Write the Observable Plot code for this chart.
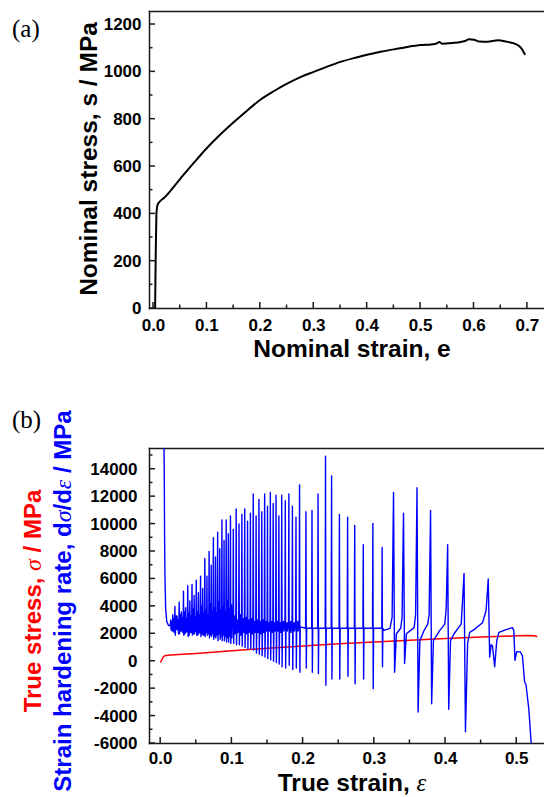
<!DOCTYPE html>
<html><head><meta charset="utf-8">
<script src="https://cdn.jsdelivr.net/npm/d3@7"></script>
<script src="https://cdn.jsdelivr.net/npm/@observablehq/plot@0.6"></script>
<style>
body{margin:0;background:#fff;}
#wrap{position:relative;width:544px;height:797px;overflow:hidden;background:#fff;}
#wrap svg{position:absolute;left:0;}
</style></head><body><div id="wrap"></div>
<script>
// ---------- Panel (a): nominal stress-strain ----------
const nominalStrain = [0.003,0.0035,0.004,0.0045,0.005,0.0055,0.0065,0.008,0.011,0.02,0.05,0.075,0.1,0.125,0.15,0.175,0.2,0.225,0.25,0.275,0.3,0.325,0.35,0.375,0.4,0.425,0.45,0.475,0.5,0.52,0.53,0.535,0.54,0.56,0.575,0.585,0.59,0.6,0.61,0.625,0.645,0.66,0.675,0.685,0.69,0.695];
const nominalStress = [0,100,200,280,340,400,425,440,450,468,548,614,678,735,787,836,882,918,950,978,1000,1022,1042,1058,1072,1085,1095,1105,1113,1116,1120,1126,1119,1122,1126,1132,1138,1136,1128,1127,1133,1128,1120,1108,1095,1075];
const xTicksA = [0,0.1,0.2,0.3,0.4,0.5,0.6,0.7];
const xMinorA = [0.05,0.15,0.25,0.35,0.45,0.55,0.65];
const yTicksA = [0,200,400,600,800,1000,1200];
const yMinorA = [100,300,500,700,900,1100];

// ---------- Panel (b): true stress & strain hardening rate ----------
const trueStrain = [0,0.002,0.004,0.006,0.01,0.03,0.05,0.1,0.15,0.2,0.25,0.3,0.35,0.4,0.45,0.5,0.515,0.525,0.528];
const trueStress = [-60,150,330,400,440,500,560,760,940,1110,1270,1400,1530,1650,1760,1850,1870,1860,1800];

// initial steep drop of the hardening rate
const startStrain = [0.0045,0.005,0.0055,0.006,0.007,0.0085,0.011];
const startRate = [16500,14000,9000,6300,3800,2900,2600];

// main serrations: position, peak, trough, baseline level
const spikeStrain = [
0.014,0.017,0.020,0.023,0.026,0.029,0.032,0.035,0.038,0.041,0.044,0.047,0.050,0.053,0.056,0.059,
0.062,0.065,0.068,0.071,0.074,0.077,0.080,0.083,0.086,0.089,0.092,0.095,0.098,
0.102,0.106,0.110,0.114,0.118,0.122,0.126,0.130,0.134,0.138,0.142,0.146,0.150,0.154,0.158,0.162,0.166,0.170,0.175,0.180,0.185,0.190,0.195,
0.204,0.2125,0.221,0.2315,0.240,0.251,0.2625,0.2725,0.2845,0.298,0.311];
const spikePeak = [
3000,3400,4000,3300,4300,3600,5100,3900,5500,4400,5600,4800,5900,5000,6200,5300,
7500,6200,8000,7000,9000,7600,9400,8200,10300,8800,10300,9300,10600,
9600,11100,10000,10700,11100,10200,10800,12200,10600,11800,10900,12200,11300,12300,11500,12100,10600,12100,11700,12200,11300,10500,12850,
10900,11000,12200,14950,13500,10700,10500,9900,8500,10050,8300];
const spikeTrough = [
2300,2200,1900,2300,2000,2200,1900,2100,1800,2100,1900,2000,1900,2000,1800,1900,
1800,1900,1700,1800,1600,1700,1500,1600,1500,1500,1400,1400,1300,
1300,1200,1200,1100,1000,900,900,800,600,500,400,300,200,100,0,-100,-200,-400,-500,-300,-600,-500,-800,
-500,-800,-900,-1750,-1300,-1300,-1100,-1650,-1300,-2000,-400];
const spikeBase = [
2600,2600,2600,2600,2600,2600,2600,2600,2600,2600,2600,2600,2600,2600,2600,2600,
2550,2550,2550,2550,2550,2550,2550,2550,2550,2550,2550,2550,2550,
2500,2500,2500,2500,2500,2500,2500,2500,2500,2500,2500,2500,2500,2500,2500,2500,2500,2500,2500,2500,2500,2500,2500,
2400,2400,2400,2400,2400,2400,2400,2400,2400,2400,2400];

// small oscillations between the serrations (up to ~0.19)
const miniStrain = [
0.0155,0.0185,0.0215,0.0245,0.0275,0.0305,0.0335,0.0365,0.0395,0.0425,0.0455,0.0485,0.0515,0.0545,0.0575,0.0605,
0.0635,0.0665,0.0695,0.0725,0.0755,0.0785,0.0815,0.0845,0.0875,0.0905,0.0935,0.0965,0.0995,
0.104,0.108,0.112,0.116,0.120,0.124,0.128,0.132,0.136,0.140,0.144,0.148,0.152,0.156,0.160,0.164,0.168,0.1725,0.1775,0.1825,0.1875,0.1925];
const miniPeak = [
2900,3100,3300,3000,3400,3200,3600,3100,3500,3300,3800,3200,3600,3400,4000,3500,
3700,3300,4200,3600,3900,3500,4300,3700,4000,3600,4400,3800,4100,
3300,3000,3400,3100,3200,3000,3100,2900,3000,2900,3000,2900,2800,2900,2800,2900,2800,2900,2800,2900,2800,2900];
const miniTrough = [
2200,2100,2300,2000,2200,2100,2000,2200,1900,2100,2000,2200,1900,2100,2000,1900,
2100,2000,1900,2000,1800,1900,2000,1800,1900,1800,1700,1800,1700,
2000,2100,1900,2100,2000,2100,2000,2100,2100,2000,2100,2200,2200,2100,2200,2200,2100,2200,2200,2100,2200,2200];
const miniBase = [
2600,2600,2600,2600,2600,2600,2600,2600,2600,2600,2600,2600,2600,2600,2600,2600,
2550,2550,2550,2550,2550,2550,2550,2550,2550,2550,2550,2550,2550,
2500,2500,2500,2500,2500,2500,2500,2500,2500,2500,2500,2500,2500,2500,2500,2500,2500,2500,2500,2500,2500,2500];

// late, widely spaced serrations and final drop
const tailStrain = [0.3135,0.322,0.325,0.327,0.3285,0.331,0.337,0.339,0.341,0.3425,0.345,0.356,0.358,0.360,0.3615,0.364,0.370,0.375,0.377,0.379,0.3805,0.383,0.392,0.399,0.401,0.403,0.4045,0.407,0.412,0.422,0.424,0.426,0.428,0.431,0.434,0.440,0.452,0.457,0.460,0.462,0.464,0.466,0.469,0.472,0.475,0.485,0.494,0.496,0.4975,0.500,0.505,0.508,0.511,0.513,0.517,0.521];
const tailRate = [2250,2400,3200,12300,-800,2000,2400,3200,10800,-170,2000,2450,3400,12650,-3700,1500,2250,2700,3400,11000,-3100,1500,2250,2700,3900,8500,-3500,1500,2000,2700,4500,6400,-5150,1300,2100,2300,2800,3700,6000,300,1200,1100,-400,1500,2100,2300,2450,2200,70,700,680,400,-1500,-1700,-3500,-6500];

const xTicksB = [0,0.1,0.2,0.3,0.4,0.5];
const xMinorB = [0.05,0.15,0.25,0.35,0.45];
const yTicksB = [-6000,-4000,-2000,0,2000,4000,6000,8000,10000,12000,14000];
const yMinorB = [-5000,-3000,-1000,1000,3000,5000,7000,9000,11000,13000,15000];

// ---------- build tables ----------
const curveA = nominalStrain.map((x,i)=>({x, y: nominalStress[i]}));
const curveRed = trueStrain.map((x,i)=>({x, y: trueStress[i]}));
const serrations = [
  ...spikeStrain.map((x,i)=>({x, p: spikePeak[i], t: spikeTrough[i], b: spikeBase[i]})),
  ...miniStrain.map((x,i)=>({x, p: miniPeak[i], t: miniTrough[i], b: miniBase[i]}))
].sort((a,b)=>a.x-b.x);
const curveBlue = [];
startStrain.forEach((x,i)=>curveBlue.push({x, y: startRate[i]}));
serrations.forEach(s=>{
  curveBlue.push({x: s.x-0.0005, y: s.b});
  curveBlue.push({x: s.x, y: s.p});
  curveBlue.push({x: s.x+0.0005, y: s.t});
  curveBlue.push({x: s.x+0.001, y: s.b});
});
tailStrain.forEach((x,i)=>curveBlue.push({x, y: tailRate[i]}));

const sans = "'Liberation Sans', Arial, Helvetica, sans-serif";
const serif = "'Liberation Serif', 'Times New Roman', serif";
const ink = "#1a1a1a";
const tickText = {fontSize: 17, fontWeight: "bold", fontFamily: sans, fill: "#000", label: null};

function frameMarks(){
  return [
    Plot.frame({anchor: "top", stroke: ink, strokeWidth: 1.5}),
    Plot.frame({anchor: "left", stroke: ink, strokeWidth: 1.5}),
    Plot.frame({anchor: "bottom", stroke: ink, strokeWidth: 1.5})
  ];
}

// inward tick marks, positioned with the plot's own x / y scales
function inwardTicks(svg, xMaj, xMin, yMaj, yMin){
  const sx = svg.scale("x"), sy = svg.scale("y");
  const xAxisY = Math.max(...sy.range);
  const yAxisX = Math.min(...sx.range);
  const g = d3.select(svg).append("g").attr("stroke", ink).attr("stroke-width", 1.5).attr("fill", "none");
  const vx = (v, len) => g.append("line").attr("x1", sx.apply(v)).attr("x2", sx.apply(v)).attr("y1", xAxisY).attr("y2", xAxisY - len);
  const vy = (v, len) => g.append("line").attr("y1", sy.apply(v)).attr("y2", sy.apply(v)).attr("x1", yAxisX).attr("x2", yAxisX + len);
  xMaj.forEach(v => vx(v, 6)); xMin.forEach(v => vx(v, 3.5));
  yMaj.forEach(v => vy(v, 6)); yMin.forEach(v => vy(v, 3.5));
}

const wrap = document.getElementById("wrap");

const plotA = Plot.plot({
  width: 544, height: 400,
  marginLeft: 149, marginRight: 0, marginTop: 11, marginBottom: 92,
  style: {background: "white", fontFamily: sans},
  x: {domain: [-0.0075, 0.732]},
  y: {domain: [0, 1255]},
  marks: [
    ...frameMarks(),
    Plot.axisX(xTicksA, {...tickText, tickSize: 0, tickPadding: 10, tickFormat: d3.format(".1f")}),
    Plot.axisY(yTicksA, {...tickText, tickSize: 0, tickPadding: 8, tickFormat: d => String(d)}),
    Plot.line(curveA, {x: "x", y: "y", stroke: "#000", strokeWidth: 2, curve: "monotone-x", clip: true})
  ]
});
plotA.style.top = "0px";
wrap.appendChild(plotA);
inwardTicks(plotA, xTicksA, xMinorA, yTicksA, yMinorA);

const plotB = Plot.plot({
  width: 544, height: 397,
  marginLeft: 149, marginRight: 0, marginTop: 48, marginBottom: 54,
  style: {background: "transparent", fontFamily: sans},
  x: {domain: [-0.0157, 0.539]},
  y: {domain: [-6000, 15510]},
  marks: [
    ...frameMarks(),
    Plot.axisX(xTicksB, {...tickText, tickSize: 0, tickPadding: 8, tickFormat: d3.format(".1f")}),
    Plot.axisY(yTicksB, {...tickText, tickSize: 0, tickPadding: 12, tickFormat: d => String(d)}),
    Plot.line(curveRed, {x: "x", y: "y", stroke: "#ff0000", strokeWidth: 1.5, clip: true}),
    Plot.line(curveBlue, {x: "x", y: "y", stroke: "#0000ff", strokeWidth: 1.4, clip: true})
  ]
});
plotB.style.top = "400px";
wrap.appendChild(plotB);
inwardTicks(plotB, xTicksB, xMinorB, yTicksB, yMinorB);

// ---------- titles (real SVG text) ----------
function addText(svg, {x, y, rotate = 0, size = 24, anchor = "middle", fill = "#000", family = sans, weight = "bold", parts}){
  const t = d3.select(svg).append("text")
    .attr("transform", `translate(${x},${y})` + (rotate ? ` rotate(${rotate})` : ""))
    .attr("text-anchor", anchor).attr("font-size", size)
    .attr("font-family", family).attr("font-weight", weight).attr("fill", fill);
  for (const p of parts){
    const s = t.append("tspan").text(p.t);
    if (p.greek) s.attr("font-family", serif).attr("font-style", "italic").attr("font-weight", "normal");
  }
}
addText(plotA, {x: 12, y: 37, anchor: "start", family: serif, weight: "normal", size: 25, parts: [{t: "(a)"}]});
addText(plotA, {x: 97, y: 159, rotate: -90, size: 24.5, parts: [{t: "Nominal stress, s / MPa"}]});
addText(plotA, {x: 352, y: 357, size: 24.5, parts: [{t: "Nominal strain, e"}]});

addText(plotB, {x: 12, y: 28, anchor: "start", family: serif, weight: "normal", size: 25, parts: [{t: "(b)"}]});
addText(plotB, {x: 41, y: 201, rotate: -90, fill: "#ff0000", parts: [{t: "True stress, "}, {t: "σ", greek: true}, {t: " / MPa"}]});
addText(plotB, {x: 71, y: 201, rotate: -90, fill: "#0000ff", parts: [{t: "Strain hardening rate, d"}, {t: "σ", greek: true}, {t: "/d"}, {t: "ε", greek: true}, {t: " / MPa"}]});
addText(plotB, {x: 352, y: 391, size: 24.5, parts: [{t: "True strain, "}, {t: "ε", greek: true}]});
</script></body></html>
